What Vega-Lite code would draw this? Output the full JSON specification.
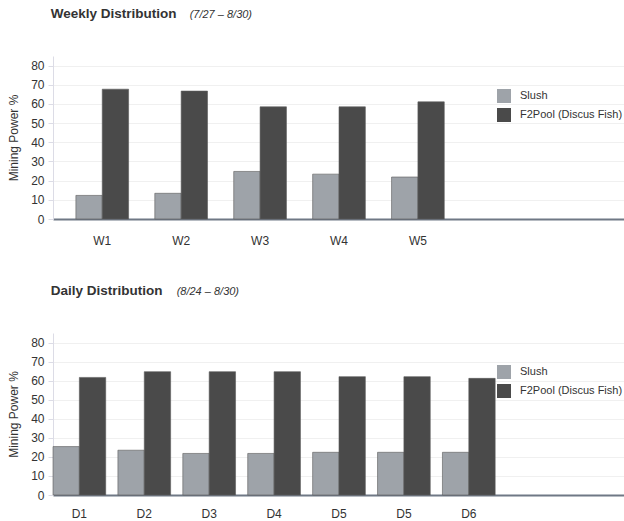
{
  "$schema": "https://vega.github.io/schema/vega-lite/v6.json",
  "padding": {"left": 7, "top": 6, "right": 0, "bottom": 0},
  "background": "white",
  "datasets": {
    "weekly": [
      {"period": "W1", "pool": "Slush", "power": 12.3},
      {"period": "W1", "pool": "F2Pool (Discus Fish)", "power": 67.7},
      {"period": "W2", "pool": "Slush", "power": 13.4},
      {"period": "W2", "pool": "F2Pool (Discus Fish)", "power": 66.7},
      {"period": "W3", "pool": "Slush", "power": 24.8},
      {"period": "W3", "pool": "F2Pool (Discus Fish)", "power": 58.5},
      {"period": "W4", "pool": "Slush", "power": 23.4},
      {"period": "W4", "pool": "F2Pool (Discus Fish)", "power": 58.5},
      {"period": "W5", "pool": "Slush", "power": 21.9},
      {"period": "W5", "pool": "F2Pool (Discus Fish)", "power": 61.1}
    ],
    "daily": [
      {"period": "D1", "pool": "Slush", "power": 25.4},
      {"period": "D1", "pool": "F2Pool (Discus Fish)", "power": 61.7},
      {"period": "D2", "pool": "Slush", "power": 23.5},
      {"period": "D2", "pool": "F2Pool (Discus Fish)", "power": 64.7},
      {"period": "D3", "pool": "Slush", "power": 21.8},
      {"period": "D3", "pool": "F2Pool (Discus Fish)", "power": 64.7},
      {"period": "D4", "pool": "Slush", "power": 21.8},
      {"period": "D4", "pool": "F2Pool (Discus Fish)", "power": 64.7},
      {"period": "D5", "pool": "Slush", "power": 22.4},
      {"period": "D5", "pool": "F2Pool (Discus Fish)", "power": 62.1},
      {"period": "D5 ", "pool": "Slush", "power": 22.4},
      {"period": "D5 ", "pool": "F2Pool (Discus Fish)", "power": 62.1},
      {"period": "D6", "pool": "Slush", "power": 22.4},
      {"period": "D6", "pool": "F2Pool (Discus Fish)", "power": 61.2}
    ]
  },
  "config": {
    "font": "Liberation Sans",
    "view": {"stroke": null},
    "concat": {"spacing": 37},
    "title": {"anchor": "start", "fontSize": 13.5, "fontWeight": "bold", "color": "#333333", "offset": 36, "dx": 43},
    "axis": {"labelColor": "#333333", "titleColor": "#333333", "labelFontSize": 12, "titleFontSize": 12, "titleFontWeight": "normal"},
    "axisX": {"domainColor": "#6f7885", "domainWidth": 2, "ticks": false, "grid": false, "labelAngle": 0, "labelPadding": 16, "title": null},
    "axisY": {"domainColor": "#dcdce6", "gridColor": "#f0f0f0", "tickColor": "#dcdce6", "tickSize": 5, "labelPadding": 4, "titlePadding": 10},
    "legend": {"labelFontSize": 11, "labelColor": "#333333", "symbolType": "square", "symbolSize": 196, "symbolStrokeWidth": 0, "rowPadding": 5, "labelOffset": 9, "padding": 0, "labelLimit": 200}
  },
  "resolve": {"scale": {"color": "independent"}, "legend": {"color": "independent"}},
  "vconcat": [
    {
      "title": {"text": "(7/27 – 8/30)", "fontSize": 11, "fontStyle": "italic", "fontWeight": "normal", "dx": 182, "dy": 13, "offset": 0, "color": "#333333"},
      "vconcat": [
        {
          "title": "Weekly Distribution",
          "width": 572,
          "height": 163,
          "data": {"name": "weekly"},
          "mark": {"type": "bar", "stroke": "#5c5c5c", "strokeWidth": 1, "strokeOpacity": 0.6},
          "encoding": {
            "x": {"field": "period", "type": "nominal", "sort": null,
                  "scale": {"domain": ["W1", "W2", "W3", "W4", "W5", "_6", "_7"], "paddingInner": 0.332, "paddingOuter": 0.29},
                  "axis": {"labelExpr": "indexof(datum.label, '_') == 0 ? '' : datum.label"}},
            "xOffset": {"field": "pool", "type": "nominal", "sort": ["Slush", "F2Pool (Discus Fish)"]},
            "y": {"field": "power", "type": "quantitative", "title": "Mining Power %",
                  "scale": {"domain": [0, 85], "nice": false},
                  "axis": {"values": [0, 10, 20, 30, 40, 50, 60, 70, 80]}},
            "color": {"field": "pool", "type": "nominal",
                      "scale": {"domain": ["Slush", "F2Pool (Discus Fish)"], "range": ["#9ea3a9", "#4a4a4a"]},
                      "legend": {"title": null, "orient": "none", "legendX": 444, "legendY": 33}}
          }
        }
      ]
    },
    {
      "title": {"text": "(8/24 – 8/30)", "fontSize": 11, "fontStyle": "italic", "fontWeight": "normal", "dx": 169, "dy": 13, "offset": 0, "color": "#333333"},
      "vconcat": [
        {
          "title": "Daily Distribution",
          "width": 572,
          "height": 162,
          "data": {"name": "daily"},
          "mark": {"type": "bar", "stroke": "#5c5c5c", "strokeWidth": 1, "strokeOpacity": 0.6},
          "encoding": {
            "x": {"field": "period", "type": "nominal", "sort": null,
                  "scale": {"domain": ["D1", "D2", "D3", "D4", "D5", "D5 ", "D6", "_8", "_9"], "paddingInner": 0.1875, "paddingOuter": 0},
                  "axis": {"labelPadding": 13, "labelExpr": "indexof(datum.label, '_') == 0 ? '' : trim(datum.label)"}},
            "xOffset": {"field": "pool", "type": "nominal", "sort": ["Slush", "F2Pool (Discus Fish)"]},
            "y": {"field": "power", "type": "quantitative", "title": "Mining Power %",
                  "scale": {"domain": [0, 85], "nice": false},
                  "axis": {"values": [0, 10, 20, 30, 40, 50, 60, 70, 80]}},
            "color": {"field": "pool", "type": "nominal",
                      "scale": {"domain": ["Slush", "F2Pool (Discus Fish)"], "range": ["#9ea3a9", "#4a4a4a"]},
                      "legend": {"title": null, "orient": "none", "legendX": 444, "legendY": 32}}
          }
        }
      ]
    }
  ]
}
